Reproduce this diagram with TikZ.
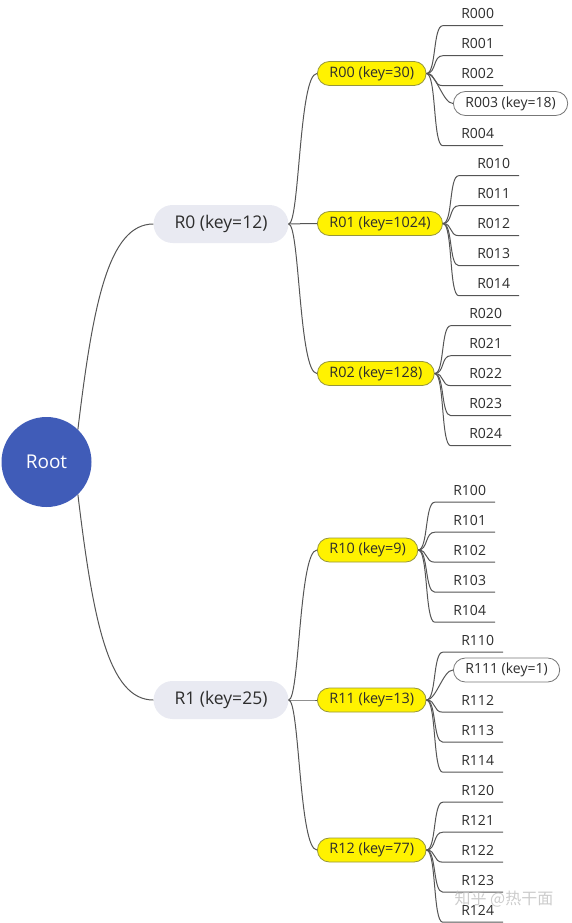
\documentclass[tikz,border=0pt]{standalone}
\usepackage{fontspec}
\setmainfont{Open Sans}
\newfontfamily\cjkfont{Noto Sans CJK SC}
\usetikzlibrary{calc}
\definecolor{rootblue}{RGB}{64,92,184}
\definecolor{lvlone}{RGB}{233,234,242}
\definecolor{ybord}{RGB}{150,150,60}
\definecolor{linec}{RGB}{85,85,85}
\definecolor{txt}{RGB}{45,45,45}
\newcommand\leafu[5]{%
  \node[leafnode] (#2) at (#4,#5) {#3};
  \draw[conn] (#1.east) .. controls ($(#1.east)+(10,0)$) and ($(#2.south west)+(-10,0)$) .. (#2.south west) -- (#2.south east);}
\newcommand\leafb[5]{%
  \node[leafbox] (#2) at (#4,#5) {#3};
  \draw[conn] (#1.east) .. controls ($(#1.east)+(10,0)$) and ($(#2.west)+(-10,0)$) .. (#2.west);}
\begin{document}
\begin{tikzpicture}[x=1pt,y=-1pt,text=txt,
  rootnode/.style={circle, fill=rootblue, minimum size=90pt, inner sep=0pt, text=white, font=\fontsize{19}{22}\selectfont},
  lvlonenode/.style={rectangle, rounded corners=19pt, fill=lvlone, minimum height=38pt, inner xsep=21pt, inner ysep=0pt, font=\fontsize{17.5}{20}\selectfont},
  lvltwonode/.style={rectangle, draw=ybord, fill=yellow, rounded corners=12pt, minimum height=24pt, inner xsep=12pt, inner ysep=0pt, line width=0.8pt, anchor=west, font=\fontsize{14.4}{16}\selectfont},
  leafnode/.style={rectangle, minimum height=24pt, text width=42pt, inner xsep=9pt, inner ysep=0pt, align=right, font=\fontsize{14}{16}\selectfont},
  leafbox/.style={rectangle, draw=linec!80, fill=white, rounded corners=12pt, minimum height=24pt, inner xsep=12pt, inner ysep=0pt, anchor=west, line width=0.8pt, font=\fontsize{14}{16}\selectfont},
  conn/.style={draw=linec, line width=1pt}]
\useasboundingbox (0,0) rectangle (571,923);

\node[rootnode] (root) at (46.5,462) {Root};
\node[lvlonenode] (r0) at (221,224) {R0 (key=12)};
\node[lvlonenode] (r1) at (221,700) {R1 (key=25)};

\draw[conn] (root.46) .. controls ($(root.46)+(15,-125)$) and ($(r0.west)+(-45,0)$) .. (r0.west);
\draw[conn] (root.-46) .. controls ($(root.-46)+(15,125)$) and ($(r1.west)+(-45,0)$) .. (r1.west);

\node[lvltwonode] (r00) at (317,73.5) {R00 (key=30)};
\node[lvltwonode] (r01) at (317,223.5) {R01 (key=1024)};
\node[lvltwonode] (r02) at (317,373.5) {R02 (key=128)};
\node[lvltwonode] (r10) at (317,550) {R10 (key=9)};
\node[lvltwonode] (r11) at (317,700) {R11 (key=13)};
\node[lvltwonode] (r12) at (317,850) {R12 (key=77)};

\foreach \p/\c in {r0/r00, r0/r01, r0/r02, r1/r10, r1/r11, r1/r12}
  \draw[conn] (\p.east) .. controls ($(\p.east)+(11,0)$) and ($(\c.west)+(-18,0)$) .. (\c.west);

\leafu{r00}{r000}{R000}{473}{13.5}
\leafu{r00}{r001}{R001}{473}{43.5}
\leafu{r00}{r002}{R002}{473}{73.5}
\leafb{r00}{r003}{R003 (key=18)}{453}{103.5}
\leafu{r00}{r004}{R004}{473}{133.5}

\leafu{r01}{r010}{R010}{489}{163.5}
\leafu{r01}{r011}{R011}{489}{193.5}
\leafu{r01}{r012}{R012}{489}{223.5}
\leafu{r01}{r013}{R013}{489}{253.5}
\leafu{r01}{r014}{R014}{489}{283.5}

\leafu{r02}{r020}{R020}{481}{313.5}
\leafu{r02}{r021}{R021}{481}{343.5}
\leafu{r02}{r022}{R022}{481}{373.5}
\leafu{r02}{r023}{R023}{481}{403.5}
\leafu{r02}{r024}{R024}{481}{433.5}

\leafu{r10}{r100}{R100}{465}{490}
\leafu{r10}{r101}{R101}{465}{520}
\leafu{r10}{r102}{R102}{465}{550}
\leafu{r10}{r103}{R103}{465}{580}
\leafu{r10}{r104}{R104}{465}{610}

\leafu{r11}{r110}{R110}{473}{640}
\leafb{r11}{r111}{R111 (key=1)}{453}{670}
\leafu{r11}{r112}{R112}{473}{700}
\leafu{r11}{r113}{R113}{473}{730}
\leafu{r11}{r114}{R114}{473}{760}

\leafu{r12}{r120}{R120}{473}{790}
\leafu{r12}{r121}{R121}{473}{820}
\leafu{r12}{r122}{R122}{473}{850}
\leafu{r12}{r123}{R123}{473}{880}
\leafu{r12}{r124}{R124}{473}{910}

\node[text=gray!50, opacity=0.8, font=\cjkfont\fontsize{16}{18}\selectfont] (wm) at (504,899) {知乎 @热干面};
\end{tikzpicture}
\end{document}
